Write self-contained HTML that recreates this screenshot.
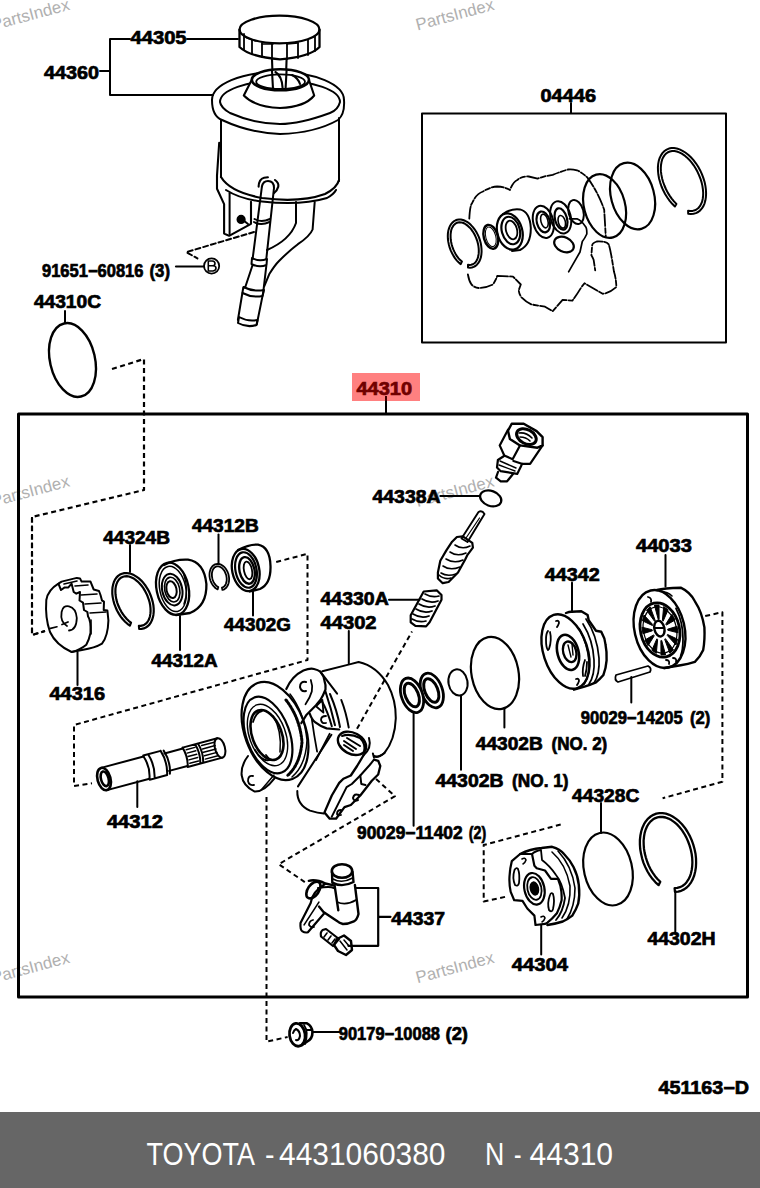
<!DOCTYPE html>
<html>
<head>
<meta charset="utf-8">
<style>
html,body{margin:0;padding:0;background:#fff;}
body{width:760px;height:1188px;position:relative;overflow:hidden;font-family:"Liberation Sans",sans-serif;}
svg{position:absolute;left:0;top:0;}
.lb text{font-family:"Liberation Sans",sans-serif;font-weight:bold;font-size:17.8px;fill:#000;stroke:#000;stroke-width:0.7px;}
.wm text{font-family:"Liberation Sans",sans-serif;font-size:16.8px;fill:#b0b0b0;}
.ft text{font-family:"Liberation Sans",sans-serif;font-size:31px;fill:#fff;}
</style>
</head>
<body>
<svg width="760" height="1188" viewBox="0 0 760 1188">
<rect x="0" y="0" width="760" height="1188" fill="#fff"/>
<g class="wm">
<text transform="translate(-7 30.4) rotate(-15)">PartsIndex</text>
<text transform="translate(417.5 30.4) rotate(-15)">PartsIndex</text>
<text transform="translate(-7 506.9) rotate(-15)">PartsIndex</text>
<text transform="translate(417.5 506.9) rotate(-15)">PartsIndex</text>
<text transform="translate(-7 983.3) rotate(-15)">PartsIndex</text>
<text transform="translate(417.5 983.3) rotate(-15)">PartsIndex</text>
</g>
<g fill="none" stroke="#000" stroke-width="2" stroke-linecap="round" stroke-linejoin="round">
<rect x="18.5" y="414" width="729" height="583" stroke-width="3"/>
<rect x="422" y="113.5" width="304" height="229" stroke-width="2"/>
<line x1="571" y1="113" x2="571" y2="103"/>
<line x1="386" y1="414" x2="386" y2="396"/>
<!-- RESERVOIR -->
<g id="res">
<ellipse cx="279.5" cy="29.5" rx="40" ry="13.8" stroke-width="2.3"/>
<path d="M239.5 30 L239.5 47 Q250 57 280 59.3 Q310 57 319.5 47 L319.5 30" stroke-width="2.3"/>
<path d="M244 34 L244 50 M252 40 L252 54 M262 43 L262 57 M272 44 L272 59 M287 44 L287 59 M298 43 L298 58 M308 40 L308 55 M315 36 L315 51" stroke-width="1.8"/>
<path d="M247 38 L256 41 M262 44 L273 44 M287 44 L298 43" stroke-width="1.5"/>
<path d="M272 59 L273 89 M286.6 59 L285.5 90 M275.4 70.5 Q282 76 282.6 88" stroke-width="2.1"/>
<path d="M212 100 A66 28 0 0 1 344 100"/>
<path d="M212 100 Q212 116 222 120 Q250 133 280 134 Q315 133 338 120 Q345 114 344 100"/>
<path d="M220 102 A59 21 0 0 1 340 102 Q338 110 330 113 Q300 124 280 124 Q255 124 230 113 Q221 108 220 102"/>
<path d="M251.7 80 L243.8 95.5 Q255 107 280 108 Q305 107 314.2 95.5 L309 80" fill="#fff" stroke-width="2.1"/>
<ellipse cx="280.4" cy="79.8" rx="28.6" ry="10.5" fill="#fff" stroke-width="2.6"/>
<ellipse cx="280.6" cy="81.7" rx="24.4" ry="7.3" stroke-width="1.8"/>
<path d="M272 71 L273 89 M286.6 70 L285.5 90 M275.4 72 Q282 76 282.6 88 M292 75 Q298 78 300 84" stroke-width="2.1"/>
<path d="M221 120 L221 177 M339 118 L339 181"/>
<path d="M221 177 Q230 192 262 198 Q300 203 325 194 Q337 188 339 180" stroke-width="2.2"/>
<path d="M226 190 Q240 199 262 201.5 Q300 206 327 198 Q334 194 336 190"/>
<path d="M219.2 142.8 L217 175.6 L217 188.8 L224.1 204.1 L224.1 233.6 L229.1 235.8 L251 223.8 L251 201.9" stroke-width="2.1"/>
<path d="M229.6 193.2 L229.6 234"/>
<circle cx="241.1" cy="219.4" r="3.6" fill="#000"/>
<path d="M243 220 L248 224"/>

<!-- outlet pipe -->
<path d="M258.6 186.6 Q259 179 264.1 177.8 L267.9 177.3 M275 180 Q279 183 278.3 186.6 Q277 191 273.9 193.2" stroke-width="2.1"/>
<path d="M261.9 186.6 Q263 181 268 181 Q274 181 274 188" stroke-width="2"/>
<path d="M261.9 186.6 L252.6 259 M273.9 188.8 L266.3 259"/>
<path d="M254.5 219 Q261 223 270 219 M254 222 Q261 226 269.5 222"/>
<path d="M252 258 Q259 262 267 259 L266.5 265 Q259 268 251.5 264 Z"/>
<path d="M252.6 265 L245.3 287 L243.2 288 L237.9 320 M264.2 286.3 L269.5 273.7 Q275 265 279 261 Q290 250 297.9 244.2 Q310 236 312.6 229.5 L314.7 202"/>
<path d="M266.3 266 L263.2 292.6 L256.8 324.2"/>
<path d="M296 202 L296 223 Q290 240 267 250"/>
<path d="M243.5 287 Q253 292 264 290 L262.5 296 Q252 298 242.5 293 M239 317 Q248 322 257.5 320 L256.5 325 Q247 328 238 323 Z"/>
</g>


<!-- leaders top -->
<path d="M110 39 L110 95 M110 39 L130 39 M187 39 L238 39 M100 71 L110 71 M110 95 L213 95"/>
<circle cx="211.6" cy="266" r="7.6" stroke-width="1.8"/>
<path d="M176 266.5 L204 266.5" stroke-width="2.2"/>
<path d="M208.3 261 L208.3 271 L213 271 Q216 270.5 216 268 Q216 265.8 212.5 265.8 L208.3 265.8 M208.3 261 L212.3 261 Q215 261.2 215 263.4 Q215 265.6 212.3 265.8" stroke-width="1.6" stroke-linejoin="miter"/>
<path d="M254 232 L186.3 252.1 L197.4 258.4" stroke-dasharray="5 3" stroke-width="2"/>
<!-- 44310C -->
<ellipse cx="72.5" cy="360" rx="22.5" ry="37.5" transform="rotate(-13 72.5 360)" stroke-width="2.4"/>
<path d="M65 311 L65 323"/>
<!-- dashed link to box -->
<path d="M112 369 L144 359 L144 490 L32 517 L32 635 L45 631" stroke-dasharray="5 3.5" stroke-width="2.2" stroke-linecap="butt"/>
<!-- 04446 kit -->
<g id="kit">
<path d="M469.3 218.7 Q470 205 472.2 203 Q476 194 483 191.5 Q490 187 497.2 186.5 Q505 187 510 190 Q513 182 517.3 180 Q522 176 528.7 176.5 L537.6 178.6 Q545 176 552.7 174.8 Q560 172 567.9 169.5 Q572 169 577 170.3 Q583 173 587.6 177.9 Q598 192 604.2 209.7 L605.8 237" stroke-dasharray="12 2 5 2" stroke-width="1.8"/>
<path d="M467.9 274.5 Q469 281 471.5 284.5 Q475 288 478.6 288 Q486 288 492.9 284.5 Q496 280 497.2 275.9 L513 276.6 L520.8 284.5 L518.7 290.2 Q519 294 521.5 297.4 Q526 302 531.6 304.5 L545 306.7 L552.7 311.2 L562.6 299.8 L572.4 300.6 Q576 296 581.5 287 L584.5 283.2 L602.7 293.8 Q610 293 616.4 287 Q616 278 614 271.8 L611.8 258.2 Q610 248 608.8 244.5 Q606 241 596.7 241.5 Q592 243 592.1 246 L591.4 255.2 Q593 258 593.6 259.7 L595.2 270.3" stroke-dasharray="12 2 5 2" stroke-width="1.8"/>
<path d="M568.6 271.8 L580 252 L582.3 241.5 Q585 238 586.8 234 Q587 228 585.3 226.4 Q582 221 577 218.8 L569.4 218.8" stroke-width="1.7"/>
<ellipse cx="604.6" cy="206" rx="20.5" ry="32.5" transform="rotate(-15 604.6 206)" stroke-width="2.2"/>
<ellipse cx="632.6" cy="196" rx="21.5" ry="34" transform="rotate(-15 632.6 196)" stroke-width="2.2"/>
<ellipse cx="490.8" cy="236.8" rx="7" ry="12.2" transform="rotate(-15 490.8 236.8)" stroke-width="2.4"/>
<ellipse cx="490.8" cy="236.8" rx="5" ry="10" transform="rotate(-15 490.8 236.8)" stroke-width="1"/>
<path d="M503 214 Q512 208 520 209.4 Q530 212 530.8 228 Q531 245 520 250 L512 251" stroke-width="2"/>
<ellipse cx="509.8" cy="231.5" rx="12.5" ry="18.5" transform="rotate(-15 509.8 231.5)" stroke-width="2.2"/>
<ellipse cx="510.8" cy="230.5" rx="9" ry="14" transform="rotate(-15 510.8 230.5)" stroke-width="2.2"/>
<ellipse cx="511.5" cy="230" rx="5.5" ry="9.5" transform="rotate(-15 511.5 230)" stroke-width="1.8"/>
<ellipse cx="543.3" cy="221.9" rx="10" ry="16.5" transform="rotate(-15 543.3 221.9)" stroke-width="2"/>
<ellipse cx="543.3" cy="221.9" rx="6.5" ry="10.6" transform="rotate(-15 543.3 221.9)" stroke-width="2.2"/>
<ellipse cx="544.4" cy="221" rx="3.5" ry="7" transform="rotate(-15 544.4 221)" stroke-width="1.6"/>
<ellipse cx="560.7" cy="217.3" rx="10" ry="16.5" transform="rotate(-15 560.7 217.3)" stroke-width="2"/>
<ellipse cx="561" cy="219" rx="6" ry="11" transform="rotate(-15 561 219)" stroke-width="2.2"/>
<ellipse cx="561.8" cy="221.8" rx="3.5" ry="6.5" transform="rotate(-15 561.8 221.8)" stroke-width="1.6"/>
<ellipse cx="576" cy="212" rx="7.4" ry="12.3" transform="rotate(-15 576 212)" stroke-width="2"/>
<ellipse cx="564" cy="244.5" rx="10.3" ry="7.2" transform="rotate(25 564 244.5)" stroke-width="2.2"/>
</g>


<!-- GEAR 44316 -->
<g id="gear" stroke-width="2">
<path d="M71.6 652 Q56 645 50 632 Q45 618 46.3 600 Q48 590 58.4 583.7 L61.6 581.6 L76.8 577.9 L80 578.4 L81.6 581.6 L90.5 581.6 L93.7 589.5 L99 591 L100.5 595 L102 600.5 L104 601.6 L103.7 610 L107.4 610.5 L108.4 620.5 Q108 636 102 643.7 Q95 648 82 650 L71.6 652"/>
<path d="M58.4 583.7 L61 590 L64.7 587.4 L68.4 587.4 L71.6 583.7 L73.7 592 L76.3 593.7 L80 592 L79.5 600.5 L83 602.6 L84 610 L87.4 612 L88 616.3 Q91 620 90.5 633 Q89 640 86.3 644.7 Q80 650 71.6 652"/>
<path d="M64 584 L77 581 M75 586 L88 585 M81 595 L97 594 M85 604 L101 603 M90 613 L106 612" stroke-width="1.6"/>
<path d="M91 620 L91 634" stroke-width="1.6"/>
<path d="M62 624.5 L68 622 M67 626 Q60 622 61.6 612 Q63 605 69 606.3 Q76 608 76.8 618 Q76.5 630 69 630.5" stroke-width="1.8"/>
</g>
<path d="M50.5 628.4 L57 626.8" stroke-width="1.6"/>
<!-- dashed left trapezoid -->
<path d="M32 517 L32 635 L45 631" stroke-dasharray="5 3.5" stroke-width="2" stroke-linecap="butt"/>
<!-- SNAP RING 44324B -->

<path d="M130 545 L130 572" stroke-width="2"/>
<!-- BEARING 44312A -->
<g id="brg">
<ellipse cx="172.6" cy="588.7" rx="16" ry="26.5" transform="rotate(-12 172.6 588.7)" stroke-width="2.3"/>
<ellipse cx="172.8" cy="588.9" rx="13" ry="23" transform="rotate(-12 172.8 588.9)" stroke-width="1.5"/>
<path d="M164 565 Q175 559 188 559.7 Q204 562 206.4 584 Q207 606 190 613 L176 615" stroke-width="2.3"/>
<ellipse cx="172.2" cy="589.6" rx="10" ry="16" transform="rotate(-12 172.2 589.6)" stroke-width="2"/>
<ellipse cx="172.2" cy="589.6" rx="7.5" ry="12.5" transform="rotate(-12 172.2 589.6)" stroke-width="1.6"/>
<ellipse cx="171.5" cy="589.6" rx="5" ry="8.5" transform="rotate(-12 171.5 589.6)" stroke-width="2"/>
<path d="M184 575 Q189 590 184 604" stroke-width="1.5"/>
</g>
<path d="M180 616 L180 650" stroke-width="2"/>
<!-- SMALL SNAP RING 44312B -->

<path d="M218.5 534.5 L218.5 564" stroke-width="2"/>
<!-- SEAL 44302G -->
<g id="seal">
<ellipse cx="245.7" cy="570" rx="13.5" ry="21.4" transform="rotate(-12 245.7 570)" stroke-width="2.3"/>
<path d="M238 550 Q249 544 258 544.6 Q270 547 270.5 566 Q271 584 260 589 L250 591.5" stroke-width="2.3"/>
<ellipse cx="246" cy="570" rx="10.5" ry="18" transform="rotate(-12 246 570)" stroke-width="2.2"/>
<ellipse cx="247" cy="570.4" rx="7.5" ry="13.5" transform="rotate(-12 247 570.4)" stroke-width="2.4"/>
<ellipse cx="248" cy="570.4" rx="4" ry="9" transform="rotate(-12 248 570.4)" stroke-width="1.8"/>
</g>
<path d="M253 591 L253 615.5" stroke-width="2"/>
<!-- dashed right of seal -->
<path d="M276.2 562 L307.5 553.8 L307.5 660 L74 725 L74 786 L92 783.3" stroke-dasharray="5 3.5" stroke-width="2" stroke-linecap="butt"/>

<path d="M77.5 652 L77.5 685" stroke-width="2"/>
<!-- SHAFT 44312 -->
<g transform="translate(104 779) rotate(-15)" stroke-width="2">
<ellipse cx="0" cy="0" rx="6.5" ry="11.5" stroke-width="2.6"/>
<ellipse cx="0.8" cy="0" rx="3.8" ry="7.5" stroke-width="2.6"/>
<path d="M0 -11.5 L44 -11.5 M0 11.5 L44 11.5"/>
<path d="M44 -11.5 Q48 0 44 11.5 M44 -12.5 L62 -12.5 M44 12.5 L62 12.5 M49 -12.5 Q53 0 49 12.5 M62 -12.5 Q66 0 62 12.5 M65 -12 Q69 0 65 12"/>
<path d="M65 -9 L84 -9 M65 9 L84 9"/>
<path d="M84 -10 L120 -10 M84 10 L120 10 M84 -10 Q87 0 84 10 M97 -10 Q100 0 97 10 M100 -10 Q103 0 100 10"/>
<ellipse cx="120" cy="0" rx="5" ry="10"/>
<path d="M87 -7 L96 -7 M87 -3.5 L96 -3.5 M87 0 L96 0 M87 3.5 L96 3.5 M87 7 L96 7 M103 -7 L116 -7 M103 -3.5 L116 -3.5 M103 0 L116 0 M103 3.5 L116 3.5 M103 7 L116 7" stroke-width="1.5"/>
</g>
<path d="M137.3 781.3 L137.3 807" stroke-width="2"/>

<!-- PUMP BODY 44302 -->
<g id="pump" stroke-width="2">
<!-- rear body -->
<path d="M322.3 671.2 L349.5 664.4 L358.6 662 Q376.8 666 388 685 Q396 700 395.8 718.2 Q395 740 384.4 753 Q378 758 373.8 756"/>
<path d="M298 786.4 L331.4 734.8"/>
<path d="M297.3 791 Q297 805 310 810.6 Q318 813 323.8 813.6"/>
<!-- mount foot -->
<path d="M363.4 755.5 L357.1 766 L350.8 775.5 L343.4 778.7 L339.2 782.9 L331.8 795.5 L324.5 812.4 L329.7 818.7 L336 818.7 L344.5 807.1 L350.8 805 L360.3 795.5 L371.8 780.8 L378.2 774.5 L380.3 766 L378.2 760.8 L374 759.7" stroke-width="2.3"/>
<path d="M331.8 816.6 L346.6 787.1 L351.8 784 L360.3 775.5 L369.7 765 L374 759.7" stroke-width="2"/>
<path d="M360.3 775.5 L361.3 784 L365.5 785" stroke-width="2"/>
<path d="M359 795 Q354 793 353 798 Q354 802 358 800" stroke-width="2"/>
<path d="M341 810 Q337 810 337 814 Q338 816 341 815" stroke-width="1.8"/>
<path d="M372.9 753.4 L374 757.6 M384.4 753 Q380 757 376 757" stroke-width="2"/>
<!-- port boss -->
<path d="M309.7 713.7 Q312 720 315 722.1 Q320 726 326.6 728.4 L339.2 729.5" stroke-width="2.2"/>
<ellipse cx="352" cy="743.3" rx="15" ry="10.5" transform="rotate(28 352 743.3)" stroke-width="2.4"/>
<path d="M342 736 Q350 733 360 738 Q366 744 364 752" stroke-width="2"/>
<path d="M344 741 L356 749 M347 738 L360 746 M344 745 L353 751" stroke-width="2"/>
<path d="M369 738 Q372 748 363.4 755.5" stroke-width="2"/>
<!-- fins / inner lines -->
<path d="M320.3 671.6 L337.1 693.7" stroke-width="2"/>
<path d="M325.5 691.6 Q331 708 335 725.3 M321.3 700 Q328 712 331.8 726.3 M330 694 Q337 710 340 727 M341.3 700 Q346 712 348.7 727.4" stroke-width="2"/>
<path d="M316 706.3 L322.4 700 L323.4 712.6 Z" stroke-width="1.8"/>
<path d="M326 716 Q321 716 321 720 Q322 724 326 723" stroke-width="1.8"/>
<path d="M311.8 719 Q314 735 317.1 751.6 M329.7 733.7 L316 760" stroke-width="1.8"/>
<!-- front flange -->
<ellipse cx="275" cy="731" rx="30.3" ry="51" transform="rotate(-20 275 731)" stroke-width="2.2"/>
<path d="M290 694 Q304 712 307 740 Q306 765 292 777" stroke-width="1.5"/>
<path d="M286 700 Q300 718 302 742 Q300 765 287 776" stroke-width="3" stroke-dasharray="2 1.5"/>
<ellipse cx="268" cy="735" rx="21.5" ry="40" transform="rotate(-20 268 735)" stroke-width="2.2"/>
<ellipse cx="267.5" cy="735" rx="18" ry="32" transform="rotate(-20 267.5 735)" stroke-width="1.4"/>
<ellipse cx="267" cy="735" rx="14.8" ry="26" transform="rotate(-20 267 735)" stroke-width="2.6"/>
<path d="M253 722 Q256 712 262 711 M255 750 Q262 762 270 760 L266 755" stroke-width="1.8"/>
<path d="M273 716 Q282 730 280 752" stroke-width="1.5"/>
<!-- top ear -->
<path d="M286.3 689 Q292 676 303.4 670.5 Q310 668 314 669 Q318 670 320.3 671.6 Q324 676 324.5 681 Q326 685 325.5 689.5 Q323 696 320.3 700 L316 705.3 L306.6 714.7 L301.3 723.2" stroke-width="2.2"/>
<path d="M306 682 Q300 681 300 687 Q301 692 306 691" stroke-width="2"/>
<path d="M310.8 680 Q313 686 311.8 691.6 Q310 698 305.5 704.2" stroke-width="1.8"/>
<!-- bottom ear -->
<path d="M248 756 Q241 765 241.6 775 Q243 786 254.7 791.6 Q264 792 274.5 778.4"/>
<path d="M253 776 Q248 775 248 781 Q249 786 254 785" stroke-width="1.8"/>
<path d="M262 789 L274 775" stroke-width="1.5"/>
</g>
<path d="M348.8 631 L348.8 663.6" stroke-width="2"/>
<!-- dashed from port to spring -->
<path d="M357 728.8 L412 631.5" stroke-dasharray="5 3.5" stroke-width="2" stroke-linecap="butt"/>
<!-- dashed pump foot to 44337 -->
<path d="M376 779 L395 796.2 L278.7 864.2 L307.6 884" stroke-dasharray="5 3.5" stroke-width="2" stroke-linecap="butt"/>
<!-- dashed vertical to nut -->
<path d="M266.5 797 L266.5 1041.7 L287.6 1037" stroke-dasharray="5 3.5" stroke-width="2" stroke-linecap="butt"/>

<!-- VALVE FITTING top -->
<g stroke-width="2">
<path d="M511.7 423.7 L523.7 423.7 L536.6 431.1 L542.6 437.1 L542.6 445.4 L537.5 447.7 L520 445.4 L509.9 439 L508 430.7 Z" stroke-width="2.4"/>
<ellipse cx="526.4" cy="436.6" rx="10.5" ry="7" transform="rotate(28 526.4 436.6)" stroke-width="3"/>
<path d="M519 433 Q526 432 532 438 M520 437 Q526 437 530 441" stroke-width="1.6"/>
<path d="M508 429.7 L499.7 445.4 L504.3 455.5 L512.6 459.2 L520 445.4 M542.6 445.4 L530.1 463.8 L521.8 463.8 L513.5 461" stroke-width="2.2"/>
<path d="M504 456 L497.9 460 L497 467.5 L500.7 471.2 L517.2 473.9 L520.9 466.6 L522 463.8" stroke-width="2.2"/>
<path d="M500 461 L516 468 M499 465 L515 471" stroke-width="1.4"/>
<path d="M498 472 L496 477.6 L500.7 481.3 L507.1 481.3 L510.8 476.7 L513 474" stroke-width="2.2"/>
<ellipse cx="490.7" cy="498.4" rx="11" ry="7.5" transform="rotate(20 490.7 498.4)" stroke-width="2.2"/>
<path d="M440.3 496 L479.5 496"/>
<!-- spool -->
<path d="M478.5 512 Q482 510 484.5 514 L467.5 542 L461.5 538.5 Z" stroke-width="1.9"/>
<path d="M479.5 518 L466 538" stroke-width="1.2"/>
<path d="M452.1 541.7 L456.9 537 L462.8 536.4 L472.3 542.9 L472.9 547.7 L467.5 554.8 L465.2 559.5 L458 572.5 L448.6 582 L442.7 583.2 L437.9 578.5 L437.9 572.5 L440.3 560.7 L446.2 550.6 Z" stroke-width="2.2"/>
<path d="M455 545 Q462 550 470 546 M450 552 Q457 557 466 553 M446 559 Q454 564 463 560 M443 566 Q450 571 460 567 M441 573 Q447 577 456 574" stroke-width="1.6"/>
<path d="M439 575 Q444 580 451 578" stroke-width="1.6"/>
<!-- spring 44330A -->
<path d="M423.7 591.5 L436.7 590.3 L441.5 595 L441.5 599.8 L429.6 622.3 L426.1 626.4 L415.4 625.9 L410.7 622.3 L410.7 615.2 Z" stroke-width="2.2"/>
<path d="M425 594 Q432 598 439 596 M422 599 Q430 604 438 601 M419 604 Q427 609 435 606 M416 609 Q424 614 432 611 M413 614 Q421 619 429 616 M412 619 Q419 623 426 621" stroke-width="1.7"/>
<path d="M389 599.8 L419.5 599.8"/>
</g>
<!-- O-RINGS 44302B -->
<ellipse cx="495" cy="673" rx="23.5" ry="36.5" transform="rotate(-11 495 673)" stroke-width="2.2"/>
<path d="M504.4 709 L504.4 727.4" stroke-width="2"/>
<ellipse cx="458" cy="682.4" rx="9.5" ry="13.2" transform="rotate(-10 458 682.4)" stroke-width="2"/>
<path d="M461 695.5 L461 769.8" stroke-width="2"/>
<!-- seals 90029-11402 -->
<g stroke-width="2.4">
<ellipse cx="431.8" cy="690.5" rx="10.5" ry="18" transform="rotate(-20 431.8 690.5)" stroke-width="2.8"/>
<ellipse cx="431.3" cy="690.5" rx="6.5" ry="12.5" transform="rotate(-22 431.3 690.5)" stroke-width="3"/>
<ellipse cx="412" cy="695.3" rx="10.5" ry="18" transform="rotate(-20 412 695.3)" fill="#fff" stroke-width="2.8"/>
<ellipse cx="411.8" cy="695" rx="6.5" ry="12.5" transform="rotate(-22 411.8 695)" stroke-width="3"/>
</g>
<path d="M413.6 712 L413.6 825.8" stroke-width="2"/>
<!-- 44342 side plate -->
<g stroke-width="2.3">
<path d="M566 613 Q570 611.5 571.8 611.8 L581.3 611.3 L587.6 615 L588.7 620.3 L596 630.8 L601.3 631.8 Q605 638 605.5 644.5 Q607 652 606.6 660.3 Q606 668 603.4 675 Q600 679 596 682.4 Q590 685 584.5 686.6 L574 689.7" stroke-width="2.4"/>
<ellipse cx="565.5" cy="651.5" rx="22" ry="38.5" transform="rotate(-18 565.5 651.5)" stroke-width="2.4"/>
<path d="M579.2 628.7 Q588 645 589 662 Q590 675 584 684 M583 624 Q593 640 594 660 Q595 675 589 684 M586 619 Q597 635 599 658 Q600 674 594 683" stroke-width="1.7"/>
<ellipse cx="568" cy="652.4" rx="10.5" ry="18" transform="rotate(-15 568 652.4)" stroke-width="2.6"/>
<ellipse cx="569.7" cy="651.8" rx="6.5" ry="10.5" transform="rotate(-15 569.7 651.8)" stroke-width="2.4"/>
<path d="M568 645 L571 657 M572 644 L573 655" stroke-width="1.4"/>
<path d="M548 631 Q546 633 546 640 Q546 648 548 650 M550 632 Q552 640 549 649" stroke-width="1.8"/>
<path d="M585 660 Q582 668 583 676 M587 662 Q587 670 585 676" stroke-width="1.8"/>
<path d="M556 621 Q559 620 559 623 Q558 626 557 627 M576 679 Q579 678 579 681 Q578 684 577 685" stroke-width="1.8"/>
</g>
<path d="M572 582.6 L572 611.6" stroke-width="2"/>
<!-- pin -->
<path d="M616 675 L648 666 Q652 668 650 672 L618 682 Q614 680 616 675 Z" stroke-width="1.8"/>
<path d="M631.3 677 L631.3 702.4" stroke-width="2"/>
<!-- 44033 rotor/cam ring -->
<g stroke-width="2.2">
<path d="M657 590 Q664 588 680.7 587.7 Q690 592 694.9 601.3 Q702 612 704.4 627.4 Q705 640 703.2 649.9 Q700 657 694.9 661.8 Q688 664 680.7 665.3 L664 668" stroke-width="2.4"/>
<ellipse cx="659.5" cy="629" rx="25" ry="39.5" transform="rotate(-13 659.5 629)" stroke-width="2.4"/>
<ellipse cx="660" cy="630" rx="19.5" ry="27.5" transform="rotate(-13 660 630)" stroke-width="2.8"/>
<ellipse cx="660" cy="630" rx="16.5" ry="23.5" transform="rotate(-13 660 630)" stroke-width="1.2"/>
<path d="M668.0 629.1 L677.1 626.3 L678.0 632.8 L668.1 630.3 Z" fill="#000" stroke-width="1"/>
<path d="M667.8 634.6 L677.6 639.2 L676.0 645.0 L667.5 635.7 Z" fill="#000" stroke-width="1"/>
<path d="M665.6 638.9 L673.4 649.7 L669.8 653.1 L664.8 639.6 Z" fill="#000" stroke-width="1"/>
<path d="M661.8 640.8 L665.6 654.9 L661.0 655.0 L660.9 640.9 Z" fill="#000" stroke-width="1"/>
<path d="M657.6 639.8 L656.3 653.4 L651.9 650.2 L656.7 639.2 Z" fill="#000" stroke-width="1"/>
<path d="M654.0 636.2 L648.0 645.7 L644.9 640.0 L653.4 635.1 Z" fill="#000" stroke-width="1"/>
<path d="M652.0 630.9 L642.9 633.7 L642.0 627.2 L651.9 629.7 Z" fill="#000" stroke-width="1"/>
<path d="M652.2 625.4 L642.4 620.8 L644.0 615.0 L652.5 624.3 Z" fill="#000" stroke-width="1"/>
<path d="M654.4 621.1 L646.6 610.3 L650.2 606.9 L655.2 620.4 Z" fill="#000" stroke-width="1"/>
<path d="M658.2 619.2 L654.4 605.1 L659.0 605.0 L659.1 619.1 Z" fill="#000" stroke-width="1"/>
<path d="M662.4 620.2 L663.7 606.6 L668.1 609.8 L663.3 620.8 Z" fill="#000" stroke-width="1"/>
<path d="M666.0 623.8 L672.0 614.3 L675.1 620.0 L666.6 624.9 Z" fill="#000" stroke-width="1"/>
<ellipse cx="659.4" cy="628.6" rx="5" ry="8" transform="rotate(-13 659.4 628.6)" stroke-width="2.4"/><path d="M655 628 L664 628" stroke-width="2"/>
<path d="M676 608.4 Q683 622 683 639 Q683 650 680.7 655.8" stroke-width="1.8"/>
<path d="M648 597 Q652 598 651 602 M666 660 Q670 660 669 664 M673 658 Q677 658 676 662" stroke-width="1.8"/>
<path d="M660 591 Q668 592 672 596" stroke-width="1.6"/>
</g>
<path d="M665.5 555 L665.5 586.6" stroke-width="2"/>
<!-- dashed right -->
<path d="M705.2 616 L722.4 612.2 L722.4 781.7 L662.6 798.3" stroke-dasharray="5 3.5" stroke-width="2" stroke-linecap="butt"/>
<!-- 44304 -->
<g stroke-width="2.2">
<path d="M520.1 854 Q530 849 541.5 848 L552.1 846.8 Q560 849 564 854 Q570 860 573.5 867 Q578 876 578.8 884.8 Q580 895 578.2 903.7 Q576 910 572.3 915.6 Q568 919 562.8 921.5 Q555 924 547.4 925" stroke-width="2.4"/>
<path d="M511.8 861.1 L520.1 854 L532 854 L534.4 865.8 L536.7 868.2 L545 870.5 L551 878.8 L558 878.8 L560.4 886 Q562 893 561.6 900.2 Q560 907 556.9 913.2 Q552 919 547.4 922.7 L545 923.9 L535.5 925 L534.4 915.6 L527.3 908.5 L522.5 900.8 L514.2 900.2 L510.7 891.9 Q509 884 509.5 876.5 Q510 868 511.8 861.1 Z"/>
<path d="M532 854 Q535 851 541 850 L542 860 Q550 866 556 875 Q562 882 565 898 Q563 912 556 920" stroke-width="1.8"/>
<path d="M552 852 Q566 864 570 886 Q571 905 562 918 M558 851 Q572 866 575 888 Q575 906 567 919" stroke-width="1.6"/>
<ellipse cx="534.4" cy="888.8" rx="10" ry="16" transform="rotate(-12 534.4 888.8)" stroke-width="2.2"/>
<ellipse cx="534.4" cy="888.5" rx="7" ry="11.5" transform="rotate(-12 534.4 888.5)" stroke-width="1.8"/>
<ellipse cx="534.4" cy="888.5" rx="4" ry="6.5" transform="rotate(-12 534.4 888.5)" fill="#000" stroke-width="1.5"/>
<path d="M514.5 870 Q512 878 515 885 Q518 887 519 883 Q520 874 518 869 Q516 867 514.5 870 Z" stroke-width="1.8"/>
<path d="M550 895 Q547 903 549 910 Q552 913 553 909 Q555 900 553 894 Q551 892 550 895 Z" stroke-width="1.8"/>
<path d="M522 859 Q525 857 526 860 Q525 863 523 864 M541 917 Q544 915 545 918 Q544 921 542 922" stroke-width="1.6"/>
</g>
<path d="M541.2 925 L541.2 954.5" stroke-width="2"/>
<path d="M560.7 824.5 L483.7 845 L483.7 901.5 L507.6 896.3" stroke-dasharray="5 3.5" stroke-width="2" stroke-linecap="butt"/>
<!-- O-ring 44328C -->
<ellipse cx="608" cy="869" rx="24" ry="37" transform="rotate(-13 608 869)" stroke-width="2.2"/>
<path d="M601 803 L601 833" stroke-width="2"/>
<!-- snap ring 44302H -->

<path d="M675.3 891 L675.3 934" stroke-width="2"/>
<!-- 44337 fitting -->
<g stroke-width="2.2">
<ellipse cx="342" cy="871" rx="10.2" ry="6.8" stroke-width="2.6"/>
<path d="M332 872 L332.3 882.6 Q342 888 353.5 882 L352.6 872" stroke-width="2.4"/>
<path d="M333 879 Q342 884 352.5 878" stroke-width="1.5"/>
<path d="M334.6 885.4 L338.3 910.2 M354.9 885 L358.5 914 Q357 920 353.9 921.3 Q348 924 342.9 924 Q339 923 337.4 921.3 L323.5 912 L319 906.6" stroke-width="2.4"/>
<path d="M337 902 Q346 906 356 900" stroke-width="1.8"/>
<path d="M308.8 880.8 Q316 879 325.4 883.5 L333.7 885.4" stroke-width="2.4"/>
<path d="M325 884 Q312 892 310.7 902.9 L300.5 923.1 Q300 930 302.4 931.4 Q305 933 307.9 932.3 L324.5 913 M318 888 Q330 886 334 888" stroke-width="2.2"/>
<path d="M304 925 L319 902" stroke-width="1.4"/>
<ellipse cx="313.4" cy="890" rx="5.5" ry="9.5" transform="rotate(35 313.4 890)" stroke-width="2.6"/>
<path d="M313 920 Q309 921 309 925 Q311 928 314 927" stroke-width="1.8"/>
<!-- bolt -->
<path d="M326 929 L339 939 L333 946 L321 936.5 Q320 932 322.6 930 Z" stroke-width="2.2"/>
<path d="M327 933 L324 937 M331 936 L328 940 M335 939 L332 943" stroke-width="1.6"/>
<path d="M337 939 L344 935.5 L351 941 L352 950 L346 955 L338 951 L334 945 Z" stroke-width="2.4"/>
<path d="M340 941 L347 950 M344 940 L349 946" stroke-width="1.5"/>
<path d="M356.3 888 L378.2 888 L378.2 945.8 L348.4 945.8 M378.2 916.8 L390.5 916.8"/>
</g>
<!-- nut 90179 -->
<g stroke-width="2.4">
<path d="M300 1023.3 L307 1023.3 Q312 1026 312.5 1032 Q312.5 1039 307 1041.7 L302 1045" stroke-width="2.6"/>
<path d="M304 1025 Q309 1032 305 1044 M307 1030 L312 1030" stroke-width="1.8"/>
<ellipse cx="297.3" cy="1034.8" rx="7.8" ry="11.5" transform="rotate(-8 297.3 1034.8)" stroke-width="2.8"/>
<path d="M296 1029 Q300 1031 300 1036 Q299 1041 296 1040 M293 1033 Q294 1030 296 1029" stroke-width="2"/>
<path d="M312.5 1032 L339.3 1032" stroke-width="2"/>
</g>
<!-- 44310 label leader -->

<path d="M129.9 625.6 L127.4 623.8 L125.1 621.7 L122.8 619.3 L120.7 616.6 L118.8 613.6 L117.0 610.5 L115.6 607.2 L114.3 603.9 L113.4 600.5 L112.7 597.1 L112.3 593.8 L112.3 590.6 L112.5 587.5 L113.1 584.6 L113.9 582.0 L115.0 579.6 L116.4 577.6 L118.1 575.9 L119.9 574.6 L122.0 573.7 L124.2 573.1 L126.5 573.0 L128.9 573.3 L131.4 574.0 L133.9 575.1 L136.4 576.6 L138.9 578.4 L141.3 580.6 L143.5 583.1 L145.6 585.8 L147.5 588.8 L149.2 591.9 L150.6 595.2 L151.8 598.6 L152.7 601.9 L153.4 605.3 L153.7 608.6 L153.7 611.9 L153.4 614.9 L152.8 617.7 L151.9 620.3 L150.8 622.6 L149.4 624.6 L147.7 626.3 L145.8 627.5 L143.8 628.4 L141.5 628.9 L139.2 629.0 L138.9 625.8 L140.8 625.8 L142.7 625.4 L144.4 624.7 L145.9 623.6 L147.3 622.2 L148.4 620.5 L149.3 618.5 L150.0 616.2 L150.4 613.7 L150.6 611.1 L150.5 608.2 L150.2 605.3 L149.6 602.3 L148.7 599.3 L147.6 596.3 L146.3 593.4 L144.8 590.6 L143.2 587.9 L141.4 585.5 L139.4 583.2 L137.4 581.3 L135.3 579.6 L133.2 578.2 L131.0 577.2 L128.9 576.5 L126.9 576.2 L124.9 576.3 L123.1 576.7 L121.4 577.4 L119.9 578.6 L118.6 580.0 L117.4 581.8 L116.6 583.8 L115.9 586.1 L115.5 588.6 L115.4 591.3 L115.5 594.2 L115.9 597.1 L116.5 600.1 L117.4 603.1 L118.5 606.1 L119.9 609.0 L121.4 611.8 L123.1 614.4 L124.9 616.8 L126.8 619.0 L128.9 621.0 L131.0 622.6 Z" stroke-width="2.2"/>
<path d="M217.7 589.4 L216.5 588.7 L215.4 588.0 L214.4 587.0 L213.4 585.9 L212.5 584.7 L211.7 583.4 L211.0 582.0 L210.4 580.5 L210.0 579.0 L209.7 577.4 L209.5 575.8 L209.5 574.2 L209.6 572.7 L209.9 571.3 L210.3 569.9 L210.8 568.6 L211.5 567.5 L212.2 566.5 L213.1 565.6 L214.1 564.9 L215.1 564.4 L216.2 564.1 L217.3 563.9 L218.5 564.0 L219.7 564.2 L220.9 564.6 L222.0 565.2 L223.1 566.0 L224.2 566.9 L225.2 568.0 L226.1 569.2 L226.9 570.6 L227.6 572.0 L228.2 573.5 L228.6 575.0 L228.9 576.6 L229.1 578.2 L229.1 579.7 L229.0 581.2 L228.7 582.7 L228.3 584.1 L227.8 585.3 L227.1 586.5 L226.4 587.5 L225.5 588.4 L224.6 589.1 L223.5 589.6 L222.4 589.9 L221.9 587.6 L222.7 587.3 L223.5 586.9 L224.2 586.4 L224.8 585.7 L225.4 584.9 L225.8 584.0 L226.2 582.9 L226.5 581.8 L226.7 580.6 L226.7 579.4 L226.7 578.1 L226.5 576.8 L226.3 575.5 L225.9 574.3 L225.4 573.1 L224.9 571.9 L224.3 570.8 L223.6 569.8 L222.8 568.9 L222.0 568.1 L221.1 567.5 L220.3 567.0 L219.4 566.6 L218.5 566.4 L217.6 566.3 L216.7 566.4 L215.9 566.7 L215.2 567.1 L214.4 567.6 L213.8 568.3 L213.2 569.1 L212.8 570.0 L212.4 571.0 L212.1 572.2 L211.9 573.3 L211.9 574.6 L211.9 575.8 L212.1 577.1 L212.3 578.4 L212.7 579.7 L213.1 580.9 L213.7 582.1 L214.3 583.2 L215.0 584.2 L215.8 585.1 L216.6 585.9 L217.4 586.5 L218.3 587.0 Z" stroke-width="1.8"/>
<path d="M658.6 885.1 L655.5 882.3 L652.6 879.1 L649.9 875.4 L647.5 871.5 L645.4 867.3 L643.5 862.9 L642.1 858.3 L641.0 853.6 L640.2 849.0 L639.9 844.4 L639.9 839.9 L640.4 835.5 L641.2 831.5 L642.4 827.7 L644.0 824.2 L645.9 821.2 L648.1 818.6 L650.6 816.5 L653.4 814.8 L656.3 813.7 L659.4 813.2 L662.6 813.2 L665.9 813.7 L669.3 814.8 L672.6 816.5 L675.8 818.6 L679.0 821.2 L682.0 824.3 L684.8 827.7 L687.3 831.5 L689.6 835.6 L691.6 839.9 L693.2 844.4 L694.5 849.0 L695.5 853.7 L696.0 858.3 L696.1 862.9 L695.9 867.3 L695.2 871.5 L694.2 875.5 L692.8 879.1 L691.1 882.3 L689.0 885.2 L686.7 887.5 L684.1 889.4 L681.2 890.8 L678.2 891.6 L675.0 891.9 L674.6 888.1 L677.3 887.9 L679.9 887.2 L682.4 886.0 L684.6 884.4 L686.6 882.2 L688.3 879.7 L689.8 876.8 L690.9 873.6 L691.7 870.0 L692.2 866.3 L692.4 862.3 L692.2 858.2 L691.7 854.0 L690.8 849.7 L689.6 845.6 L688.1 841.5 L686.4 837.6 L684.3 833.8 L682.1 830.4 L679.6 827.2 L677.0 824.4 L674.3 822.1 L671.4 820.1 L668.5 818.6 L665.7 817.5 L662.8 817.0 L660.0 816.9 L657.4 817.4 L654.8 818.3 L652.5 819.8 L650.4 821.6 L648.5 824.0 L646.9 826.7 L645.6 829.7 L644.6 833.1 L644.0 836.8 L643.6 840.7 L643.7 844.8 L644.0 848.9 L644.7 853.1 L645.8 857.3 L647.1 861.5 L648.7 865.5 L650.6 869.3 L652.8 872.9 L655.1 876.2 L657.7 879.2 L660.3 881.8 Z" stroke-width="2.3"/>
<path d="M674.9 206.5 L672.2 203.8 L669.7 200.8 L667.3 197.5 L665.1 194.0 L663.2 190.3 L661.5 186.5 L660.2 182.6 L659.1 178.7 L658.4 174.8 L658.0 171.0 L657.9 167.3 L658.2 163.9 L658.8 160.6 L659.8 157.7 L661.1 155.1 L662.6 152.9 L664.5 151.0 L666.6 149.6 L668.9 148.6 L671.4 148.1 L674.0 148.1 L676.8 148.5 L679.6 149.4 L682.5 150.8 L685.3 152.5 L688.2 154.7 L690.9 157.3 L693.5 160.1 L695.9 163.3 L698.2 166.8 L700.2 170.4 L701.9 174.2 L703.4 178.1 L704.6 182.0 L705.4 185.9 L705.9 189.7 L706.1 193.4 L705.9 197.0 L705.4 200.3 L704.6 203.3 L703.4 206.1 L701.9 208.4 L700.2 210.4 L698.2 212.0 L695.9 213.1 L693.5 213.7 L690.9 213.9 L688.2 213.7 L688.1 210.7 L690.4 211.0 L692.7 210.9 L694.8 210.3 L696.7 209.3 L698.4 208.0 L699.9 206.2 L701.1 204.1 L702.1 201.7 L702.7 199.0 L703.1 196.0 L703.2 192.8 L702.9 189.4 L702.4 185.9 L701.6 182.4 L700.5 178.8 L699.1 175.3 L697.5 171.8 L695.7 168.5 L693.7 165.3 L691.5 162.4 L689.2 159.7 L686.8 157.4 L684.3 155.3 L681.8 153.7 L679.2 152.4 L676.8 151.5 L674.4 151.1 L672.1 151.1 L669.9 151.5 L667.9 152.3 L666.1 153.5 L664.6 155.1 L663.3 157.1 L662.2 159.4 L661.5 162.1 L661.0 165.0 L660.8 168.1 L660.9 171.4 L661.4 174.9 L662.1 178.4 L663.1 182.0 L664.4 185.5 L665.9 189.0 L667.6 192.4 L669.6 195.6 L671.7 198.6 L674.0 201.4 L676.4 203.9 Z" stroke-width="2.0"/>
<path d="M460.7 264.2 L458.8 262.5 L456.9 260.6 L455.1 258.4 L453.5 255.9 L452.1 253.3 L450.8 250.6 L449.7 247.7 L448.9 244.8 L448.3 241.9 L447.9 239.0 L447.8 236.1 L447.9 233.4 L448.3 230.8 L449.0 228.4 L449.8 226.3 L450.9 224.4 L452.2 222.8 L453.7 221.4 L455.3 220.5 L457.1 219.8 L459.0 219.5 L460.9 219.6 L463.0 220.0 L465.0 220.8 L467.1 221.9 L469.1 223.3 L471.0 225.1 L472.9 227.1 L474.6 229.3 L476.2 231.8 L477.6 234.4 L478.9 237.2 L479.9 240.1 L480.7 243.0 L481.2 245.9 L481.5 248.8 L481.6 251.6 L481.4 254.3 L481.0 256.9 L480.3 259.2 L479.4 261.3 L478.2 263.2 L476.9 264.7 L475.4 266.0 L473.7 266.9 L471.9 267.5 L470.0 267.7 L468.0 267.5 L468.0 264.7 L469.6 264.9 L471.2 264.8 L472.7 264.3 L474.1 263.5 L475.3 262.5 L476.3 261.1 L477.2 259.5 L477.9 257.7 L478.4 255.6 L478.7 253.4 L478.8 251.1 L478.7 248.6 L478.4 246.0 L477.9 243.4 L477.2 240.8 L476.3 238.3 L475.2 235.8 L474.0 233.5 L472.6 231.3 L471.1 229.2 L469.5 227.4 L467.9 225.9 L466.2 224.6 L464.5 223.5 L462.7 222.8 L461.1 222.4 L459.4 222.3 L457.9 222.5 L456.4 223.0 L455.1 223.9 L453.9 225.0 L452.9 226.4 L452.0 228.0 L451.3 229.9 L450.9 232.0 L450.6 234.3 L450.6 236.7 L450.7 239.2 L451.1 241.7 L451.6 244.3 L452.4 246.9 L453.3 249.4 L454.5 251.9 L455.7 254.2 L457.1 256.4 L458.6 258.3 L460.2 260.1 L461.9 261.6 Z" stroke-width="2.0"/>


</g>
<rect x="352" y="373" width="68" height="28" fill="#ff8080"/>
<line x1="386" y1="396" x2="386" y2="401" stroke="#400000" stroke-width="2"/>
<g class="lb">
<text x="130.5" y="44.3" textLength="56.1" lengthAdjust="spacingAndGlyphs">44305</text>
<text x="44.0" y="78.5" textLength="55.0" lengthAdjust="spacingAndGlyphs">44360</text>
<text x="540.5" y="101.6" textLength="55.5" lengthAdjust="spacingAndGlyphs">04446</text>
<text x="42.0" y="276.6" textLength="101.5" lengthAdjust="spacingAndGlyphs">91651−60816</text>
<text x="149.5" y="276.6" textLength="20.5" lengthAdjust="spacingAndGlyphs">(3)</text>
<text x="33.9" y="308.2" textLength="67.1" lengthAdjust="spacingAndGlyphs">44310C</text>
<text x="372.5" y="502.8" textLength="68.1" lengthAdjust="spacingAndGlyphs">44338A</text>
<text x="103.2" y="544.4" textLength="66.8" lengthAdjust="spacingAndGlyphs">44324B</text>
<text x="191.9" y="532.3" textLength="66.8" lengthAdjust="spacingAndGlyphs">44312B</text>
<text x="636.1" y="551.6" textLength="55.7" lengthAdjust="spacingAndGlyphs">44033</text>
<text x="544.8" y="580.6" textLength="54.9" lengthAdjust="spacingAndGlyphs">44342</text>
<text x="320.5" y="605.2" textLength="68.2" lengthAdjust="spacingAndGlyphs">44330A</text>
<text x="320.5" y="629.0" textLength="56.1" lengthAdjust="spacingAndGlyphs">44302</text>
<text x="224.1" y="630.8" textLength="66.8" lengthAdjust="spacingAndGlyphs">44302G</text>
<text x="151.5" y="666.6" textLength="66.0" lengthAdjust="spacingAndGlyphs">44312A</text>
<text x="49.5" y="699.6" textLength="55.5" lengthAdjust="spacingAndGlyphs">44316</text>
<text x="580.8" y="724.0" textLength="101.8" lengthAdjust="spacingAndGlyphs">90029−14205</text>
<text x="690.0" y="724.0" textLength="20.3" lengthAdjust="spacingAndGlyphs">(2)</text>
<text x="475.8" y="749.6" textLength="67.0" lengthAdjust="spacingAndGlyphs">44302B</text>
<text x="551.5" y="749.6" textLength="55.8" lengthAdjust="spacingAndGlyphs">(NO. 2)</text>
<text x="435.5" y="786.5" textLength="68.0" lengthAdjust="spacingAndGlyphs">44302B</text>
<text x="512.1" y="786.5" textLength="56.5" lengthAdjust="spacingAndGlyphs">(NO. 1)</text>
<text x="572.1" y="801.8" textLength="67.2" lengthAdjust="spacingAndGlyphs">44328C</text>
<text x="106.9" y="827.6" textLength="56.1" lengthAdjust="spacingAndGlyphs">44312</text>
<text x="357.1" y="838.6" textLength="105.5" lengthAdjust="spacingAndGlyphs">90029−11402</text>
<text x="468.8" y="838.6" textLength="17.4" lengthAdjust="spacingAndGlyphs">(2)</text>
<text x="391.3" y="924.8" textLength="53.7" lengthAdjust="spacingAndGlyphs">44337</text>
<text x="647.4" y="944.8" textLength="68.2" lengthAdjust="spacingAndGlyphs">44302H</text>
<text x="511.8" y="971.0" textLength="56.2" lengthAdjust="spacingAndGlyphs">44304</text>
<text x="338.8" y="1039.5" textLength="101.2" lengthAdjust="spacingAndGlyphs">90179−10088</text>
<text x="445.5" y="1039.5" textLength="22.5" lengthAdjust="spacingAndGlyphs">(2)</text>
<text x="658.5" y="1094.3" textLength="90.5" lengthAdjust="spacingAndGlyphs">451163−D</text>

<text x="356.5" y="395.2" textLength="55.5" lengthAdjust="spacingAndGlyphs" style="fill:#700000;stroke:#700000">44310</text>
</g>
<rect x="0" y="1112" width="760" height="76" fill="#666666"/>
<g class="ft">
<text x="146.6" y="1164.5" textLength="108.4" lengthAdjust="spacingAndGlyphs">TOYOTA</text>
<text x="265.0" y="1164.5" textLength="9.5" lengthAdjust="spacingAndGlyphs">-</text>
<text x="279.0" y="1164.5" textLength="166.5" lengthAdjust="spacingAndGlyphs">4431060380</text>
<text x="485.0" y="1164.5" textLength="19.3" lengthAdjust="spacingAndGlyphs">N</text>
<text x="514.0" y="1164.5" textLength="7.5" lengthAdjust="spacingAndGlyphs">-</text>
<text x="529.5" y="1164.5" textLength="83.6" lengthAdjust="spacingAndGlyphs">44310</text>

</g>
</svg>
</body>
</html>
